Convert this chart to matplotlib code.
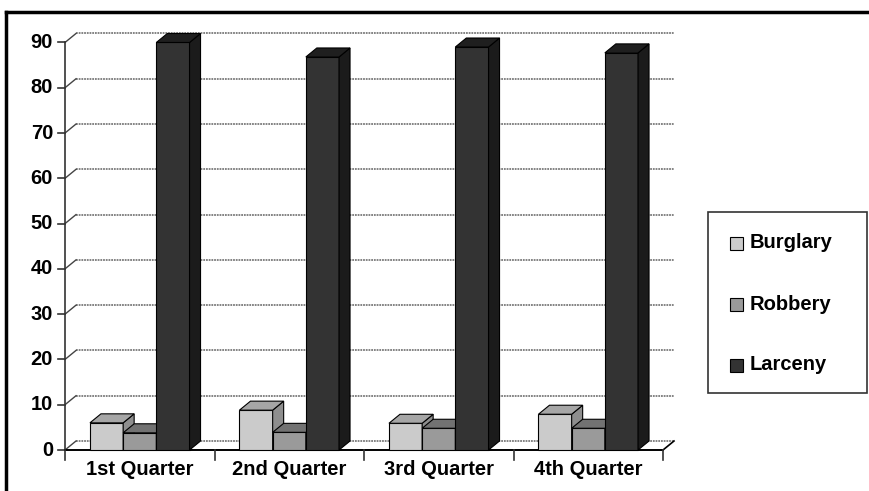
import matplotlib
matplotlib.use("Agg")
import matplotlib.pyplot as plt
from matplotlib.patches import Polygon, Rectangle
from matplotlib.lines import Line2D

# data
quarters = ["1st Quarter", "2nd Quarter", "3rd Quarter", "4th Quarter"]
series = ["Burglary", "Robbery", "Larceny"]
burglary = [6, 8.8, 5.9, 7.9]
robbery = [3.8, 3.9, 4.8, 4.8]
larceny = [90, 86.8, 89, 87.7]
yticks = [0, 10, 20, 30, 40, 50, 60, 70, 80, 90]

values = [burglary, robbery, larceny]
# front, top, side shades per series
shades = [("#cbcbcb", "#a6a6a6", "#8e8e8e"),
          ("#9a9a9a", "#727272", "#6a6a6a"),
          ("#333333", "#1f1f1f", "#1b1b1b")]

plt.rcParams['font.family'] = ['Liberation Sans', 'DejaVu Sans']
W, H = 869, 491
fig = plt.figure(figsize=(W / 100, H / 100), dpi=100)
ax = fig.add_axes([0, 0, 1, 1])
ax.axis("off")

# pixel mapping of the front plane: x 0..4 -> px 65..663, y 0..90 -> px 450..42.5
px_x = 149.5
px_y = 4.528
ax.set_xlim(-65 / px_x, (W - 65) / px_x)
ax.set_ylim((450 - H) / px_y, 450 / px_y)

dx = 11 / px_x
dy = 9 / px_y
n = len(quarters)
fs = 14.5

# gridlines on back wall with diagonals on the left wall
for v in yticks:
    col = "#7a7a7a"
    ax.plot([dx, n + dx], [v + dy, v + dy], color=col, lw=1.3, ls=(0, (1, 0.5)), zorder=1)
    ax.plot([0, dx], [v, v + dy], color="#444444", lw=1.0, zorder=1)
    ax.plot([-0.05, 0], [v, v], color="#333333", lw=1.2, zorder=2)
    ax.text(-0.08, v, str(v), ha="right", va="center", fontsize=fs, fontweight="bold")

# front axis lines and floor
ax.plot([0, 0], [0, yticks[-1]], color="#333333", lw=1.2, zorder=2)
ax.plot([0, n], [0, 0], color="black", lw=1.4, zorder=2)
ax.plot([n, n + dx], [0, dy], color="black", lw=1.2, zorder=2)
for i in range(n + 1):
    ax.plot([i, i], [0, -2.3], color="#333333", lw=1.2, zorder=2)

# bars
bw = 0.222
start = 0.167
for i in range(n):
    for j, vals in enumerate(values):
        h = vals[i]
        x0 = i + start + j * bw
        x1 = x0 + bw
        front, top, side = shades[j]
        z = 3 + j
        ax.add_patch(Rectangle((x0, 0), bw, h, facecolor=front, edgecolor="black", lw=0.8, zorder=z))
        ax.add_patch(Polygon([(x1, 0), (x1 + dx, dy), (x1 + dx, h + dy), (x1, h)],
                             closed=True, facecolor=side, edgecolor="black", lw=0.8, zorder=z))
        ax.add_patch(Polygon([(x0, h), (x1, h), (x1 + dx, h + dy), (x0 + dx, h + dy)],
                             closed=True, facecolor=top, edgecolor="black", lw=0.8, zorder=z))
    ax.text(i + 0.5, -4.4, quarters[i], ha="center", va="center", fontsize=fs, fontweight="bold")

# legend box (figure pixels)
def fx(p):
    return p / W

def fy(p):
    return 1 - p / H

fig.add_artist(Rectangle((fx(708), fy(393)), fx(867) - fx(708), fy(212) - fy(393),
                         transform=fig.transFigure, facecolor="white", edgecolor="#333333", lw=1.2))
for k, name in enumerate(series):
    yc = 243 + k * 61
    fig.add_artist(Rectangle((fx(730), fy(yc + 6.5)), 13 / W, 13 / H, transform=fig.transFigure,
                             facecolor=shades[k][0], edgecolor="black", lw=0.8))
    fig.text(fx(750), fy(yc), name, ha="left", va="center", fontsize=fs, fontweight="bold")

# outer black frame (top and left)
fig.add_artist(Line2D([fx(6), 1], [fy(12), fy(12)], transform=fig.transFigure, color="black", lw=2.5))
fig.add_artist(Line2D([fx(6), fx(6)], [fy(12), 0], transform=fig.transFigure, color="black", lw=2.5))

fig.savefig("out.png", dpi=100)
